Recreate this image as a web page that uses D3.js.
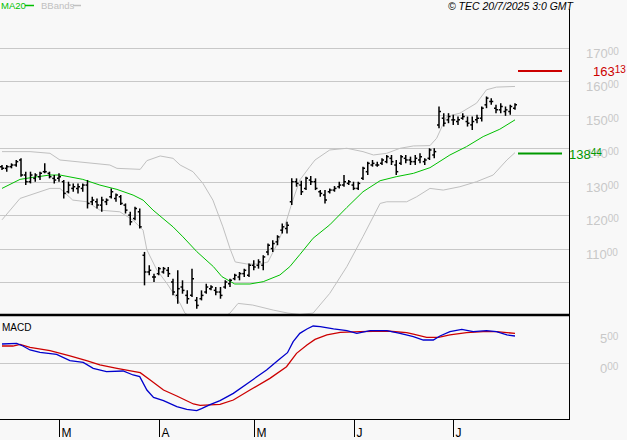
<!DOCTYPE html>
<html>
<head>
<meta charset="utf-8">
<script src="https://cdn.jsdelivr.net/npm/d3@7"></script>
<style>
  body { margin: 0; background: #f8f8f8; }
  svg { display: block; }
  text { font-family: "Liberation Sans", Arial, sans-serif; }
</style>
</head>
<body>
<svg id="chart" width="627" height="440"></svg>
<script>
// trading calendar
const firstDay = "2025-02-13", lastDay = "2025-07-18"
const holidays = ["2025-04-18", "2025-04-21", "2025-05-01"]
const monthLabels = ["M", "A", "M", "J", "J"]

// daily bars
const high = [135.0,135.0,135.5,136.5,137.0,133.0,133.0,132.5,133.0,135.5,133.0,132.0,132.5,130.5,130.0,129.5,129.5,129.5,130.5,125.5,
  125.0,125.5,125.0,128.0,126.5,126.0,123.5,121.0,122.5,122.0,109.0,105.0,102.5,104.5,104.5,104.5,101.0,103.5,100.5,97.5,
  104.0,95.5,97.5,99.5,99.0,98.5,98.5,100.5,101.0,102.5,103.0,104.0,105.5,106.5,106.8,108.0,111.5,112.5,114.0,117.5,
  118.0,131.0,131.0,130.3,131.5,131.7,131.0,127.5,127.5,128.0,128.7,130.0,132.0,130.5,130.0,130.0,134.5,136.0,136.5,136.0,
  137.0,138.0,138.0,136.5,138.0,138.0,137.5,138.0,138.5,137.0,140.0,140.0,152.5,150.5,150.5,150.0,149.5,150.5,149.5,149.5,
  150.0,152.5,155.5,155.0,153.0,153.5,152.5,153.0,153.5]
const low = [133.5,133.0,134.0,134.5,131.5,129.0,129.5,130.0,130.5,132.5,131.0,129.5,130.0,125.0,126.5,127.0,126.5,127.0,122.0,123.0,
  122.0,121.0,123.0,125.0,124.0,123.0,120.5,117.0,118.5,116.0,99.0,102.0,100.0,102.0,102.5,101.5,96.0,93.5,96.5,93.5,
  95.5,92.0,94.5,96.5,97.5,96.0,95.0,98.0,98.5,100.5,100.5,101.5,101.5,103.5,104.0,103.5,108.0,109.0,111.0,114.5,
  114.5,123.0,128.5,126.0,127.5,129.0,127.5,125.5,123.5,126.5,127.0,128.0,128.5,129.0,127.5,127.5,130.5,132.0,134.5,134.5,
  135.0,135.5,135.0,132.0,135.0,135.5,135.0,135.0,135.5,135.0,136.5,137.0,146.0,146.5,147.5,147.0,147.0,148.5,146.5,145.5,
  147.5,148.0,152.0,153.0,150.5,150.5,149.7,150.0,151.5]
const open = [134.5,134.0,134.5,135.0,136.5,132.0,130.0,131.0,131.5,133.0,132.5,131.0,131.0,130.0,127.0,128.0,128.0,128.0,129.0,124.0,
  124.0,123.0,124.0,125.5,125.0,125.5,123.0,120.0,119.0,121.0,108.0,103.0,101.5,102.5,103.0,103.5,100.0,96.0,98.5,96.0,
  96.0,94.5,95.0,97.0,98.0,97.5,97.0,98.5,99.5,101.0,101.5,102.5,102.0,105.0,105.0,105.0,109.0,110.0,112.0,115.5,
  116.0,124.0,130.0,129.0,128.0,130.5,130.0,127.0,126.0,127.0,127.5,128.5,129.0,129.5,129.0,128.0,131.0,133.0,135.0,135.0,
  135.5,136.0,137.0,135.0,135.5,137.0,136.5,136.0,136.5,136.0,137.0,138.0,147.0,149.0,148.5,148.5,148.0,149.0,148.0,147.0,
  148.5,149.0,153.0,154.0,152.0,151.5,151.0,151.0,152.0]
const close = [134.0,134.5,135.0,136.0,132.0,130.0,132.0,132.0,132.5,133.0,131.5,130.5,131.5,126.5,129.0,128.5,128.5,129.0,123.5,124.5,
  123.0,124.5,124.5,127.0,126.0,123.5,121.5,118.0,122.0,116.5,103.0,103.5,101.5,104.0,104.0,102.5,97.0,98.0,97.5,95.0,
  101.0,93.0,96.0,98.5,98.5,97.0,96.0,100.0,100.5,102.0,102.5,103.5,105.0,104.5,106.0,107.5,111.0,111.5,113.5,116.5,
  117.0,130.0,129.5,127.0,131.0,130.0,128.0,126.5,124.5,127.5,128.0,129.0,130.0,130.0,128.0,129.5,134.0,135.5,135.5,135.0,
  136.5,137.5,136.0,133.0,137.5,136.5,136.0,137.0,137.5,136.5,139.5,139.0,151.0,147.5,149.5,148.5,148.5,149.5,147.5,148.0,
  149.0,152.0,155.0,154.0,151.5,152.5,151.5,152.5,153.0]

// indicators: [day index, value]
const ma20 = [[0,128.0],[3.8,130.7],[6.5,131.3],[10.1,132.0],[12.2,132.0],[17,130.7],[20.6,129.0],[24.2,127.7],[27.6,126.0],
  [29.7,124.5],[31.8,121.5],[33.9,119.0],[36,116.5],[38.1,113.5],[41,109.1],[44.5,104.6],[46.3,101.6],[49,99.4],[52.2,99.4],
  [55,100.1],[58.5,102.1],[60.6,104.6],[62.7,108.2],[65.5,113.1],[69,117.1],[72.6,122.3],[76,127.0],[79.6,130.3],[83,131.5],
  [86.6,132.5],[90.1,134.2],[94.3,138.0],[97.8,140.5],[101.3,143.5],[104.8,145.7],[108,148.5]]
const bbUpper = [[0,139],[5.9,139],[10.1,138.5],[12.2,136.5],[22.7,135],[24.2,134],[29.1,133.7],[30.5,136.3],[33.3,137.7],
  [36,137],[37.5,135],[40.2,133],[42.3,129.5],[44.4,124.5],[46.5,116.5],[48,110],[49.1,106],[51.5,105.4],[54.3,105.4],[56,106],
  [57.8,111],[59.6,117],[61,123.5],[62.7,130.5],[64.8,134.5],[65.9,136.5],[69,139.5],[72.6,140],[76,139],[78.2,138],[81,138.5],
  [83.8,140],[86.6,140.7],[90.1,140.8],[91.5,143],[93.6,149.5],[96.4,150.5],[99.9,153.5],[102,157.5],[104.1,158.3],[108,158.5]]
const bbLower = [[0,118.6],[3.8,125],[5.9,126],[10.1,128],[12.2,128],[14.9,124.5],[17.9,124],[20.6,121.5],[24.8,121],
  [27.6,118.5],[29.7,115.5],[30.5,109.6],[32.6,103.6],[34.7,99.6],[37.5,93.6],[38.5,90.7],[41.7,88],[44.8,88],[48,90.7],
  [49.7,93.6],[52.8,93.1],[57.1,91.6],[60.2,90.7],[62.7,90.3],[65.5,90.7],[69,96.6],[72.6,104.6],[76,113.6],[79.6,123.5],
  [81,124],[85.2,124],[87.3,125.5],[90.1,128],[92.9,127.5],[96.4,128.5],[99.9,130],[103.4,132],[106.3,136.5],[108,138.7]]
const macd = [[0,3.17],[3.1,3.28],[4.4,2.83],[5.9,2.17],[8,1.78],[11.5,1.44],[14.3,0.39],[17.1,0.11],[19.2,-0.89],[22,-1.44],
  [25.5,-1.33],[27.6,-2],[29,-2.28],[30.5,-4.5],[31.9,-5.72],[34,-6.28],[36.8,-7.28],[38.9,-7.72],[41,-7.94],[42,-7.6],
  [43.8,-6.95],[45.9,-6.28],[48.7,-5.06],[52.2,-3.11],[55.7,-1.17],[58.2,0.5],[60.1,1.72],[61.3,3.56],[62.7,4.94],[64.2,5.67],
  [65.5,6.17],[67,6.06],[69.8,5.67],[72.6,5.39],[74.7,4.94],[77.5,5.39],[81,5.39],[83.8,4.94],[86.6,4.39],[88.7,3.83],
  [90.8,3.83],[92.2,4.5],[94.3,5.22],[96.8,5.61],[99.2,5.22],[102,5.39],[104.1,5.22],[106.3,4.67],[108,4.5]]
const signal = [[0,2.83],[2.3,2.83],[3.8,3.1],[5.9,2.6],[10.1,2.05],[14.3,1.17],[17.8,0.39],[20.6,-0.33],[24.2,-0.89],
  [29.1,-1.61],[31.2,-2.83],[34,-4.5],[36.8,-5.5],[40.3,-6.83],[41.7,-7.05],[45.9,-6.89],[48.7,-6.17],[52.2,-4.5],[56.4,-2.56],
  [59.9,-0.61],[62,1.61],[64.2,3],[65.9,3.94],[68.4,4.67],[71.2,5.11],[75.4,5.22],[81,5.33],[85.2,5.06],[86.6,4.83],
  [89.4,4.28],[91.9,4.28],[94.3,4.67],[97.8,5.06],[101.3,5.22],[104.1,5.22],[106.3,5.06],[108,4.94]]

const priceTicks = [100, 110, 120, 130, 140, 150, 160, 170]
const priceLabels = [110, 120, 130, 140, 150, 160, 170]
const macdLabels = [5, 0]
const upperMark = 163.13, lowerMark = 138.44

const parse = d3.utcParse("%Y-%m-%d"), fmt = d3.utcFormat("%Y-%m-%d")
const days = d3.utcDays(parse(firstDay), d3.utcDay.offset(parse(lastDay), 1))
  .filter(d => d.getUTCDay() > 0 && d.getUTCDay() < 6 && !holidays.includes(fmt(d)))

const W = 569
const svg = d3.select("#chart")
svg.append("rect").attr("width", 627).attr("height", 440).attr("fill", "#f8f8f8")

let x = d3.scaleLinear().domain([0, days.length - 1]).range([2, 515])
let y = d3.scaleLinear().domain([100, 170]).range([282, 48])
let ym = d3.scaleLinear().domain([0, 5]).range([363, 333])

const defs = svg.append("defs")
defs.append("clipPath").attr("id", "cm").append("rect").attr("x", 0).attr("y", 10).attr("width", W).attr("height", 304)
defs.append("clipPath").attr("id", "cd").append("rect").attr("x", 0).attr("y", 316).attr("width", W).attr("height", 103)

// grid
svg.append("g").selectAll("line").data(priceTicks).join("line")
  .attr("x1", 0).attr("x2", W)
  .attr("y1", d => Math.round(y(d)) + 0.5).attr("y2", d => Math.round(y(d)) + 0.5)
  .attr("stroke", "#c8c8c8")
svg.append("line").attr("x1", 0).attr("x2", W)
  .attr("y1", Math.round(ym(0)) + 0.5).attr("y2", Math.round(ym(0)) + 0.5).attr("stroke", "#c8c8c8")

// right labels with small decimals
function priceLabel(g, v, px, py, color, big, small) {
  let s = v.toFixed(2).split(".")
  let t = g.append("text").attr("x", px).attr("y", py).attr("fill", color)
  t.append("tspan").attr("font-size", big).text(s[0])
  t.append("tspan").attr("font-size", small).attr("dy", -3).text(s[1])
}
let lab = svg.append("g")
priceLabels.forEach(v => priceLabel(lab, v, 586, y(v) + 10, "#c8c8c8", 13, 10))
macdLabels.forEach(v => priceLabel(lab, v, 600, ym(v) + 10, "#c8c8c8", 13, 10))

let main = svg.append("g").attr("clip-path", "url(#cm)")
let line = d3.line().x(d => x(d[0])).y(d => y(d[1]))
main.append("path").attr("d", line(bbUpper)).attr("fill", "none").attr("stroke", "#c0c0c0")
main.append("path").attr("d", line(bbLower)).attr("fill", "none").attr("stroke", "#c0c0c0")
main.append("path").attr("d", line(ma20)).attr("fill", "none").attr("stroke", "#00c000")

// OHLC bars
let bars = main.append("g").attr("stroke", "#000").attr("stroke-width", 1.5)
days.forEach((d, i) => {
  let bx = x(i)
  bars.append("line").attr("x1", bx).attr("x2", bx).attr("y1", y(high[i])).attr("y2", y(low[i]))
  bars.append("line").attr("x1", bx - 2).attr("x2", bx).attr("y1", y(open[i])).attr("y2", y(open[i]))
  bars.append("line").attr("x1", bx).attr("x2", bx + 2).attr("y1", y(close[i])).attr("y2", y(close[i]))
})

// projected band marks
svg.append("line").attr("x1", 518).attr("x2", 562).attr("y1", y(upperMark)).attr("y2", y(upperMark))
  .attr("stroke", "#cc0000").attr("stroke-width", 2)
svg.append("line").attr("x1", 518).attr("x2", 562).attr("y1", y(lowerMark)).attr("y2", y(lowerMark))
  .attr("stroke", "#009900").attr("stroke-width", 2)
priceLabel(lab, upperMark, 593, y(upperMark) + 5, "#cc0000", 13, 10)
priceLabel(lab, lowerMark, 569, y(lowerMark) + 5, "#009900", 13, 10)

// MACD
let sub = svg.append("g").attr("clip-path", "url(#cd)")
let mline = d3.line().x(d => x(d[0])).y(d => ym(d[1]))
sub.append("path").attr("d", mline(signal)).attr("fill", "none").attr("stroke", "#cc0000").attr("stroke-width", 1.3)
sub.append("path").attr("d", mline(macd)).attr("fill", "none").attr("stroke", "#0000cc").attr("stroke-width", 1.3)

// frame
svg.append("line").attr("x1", 0).attr("x2", W).attr("y1", 315).attr("y2", 315).attr("stroke", "#000").attr("stroke-width", 2.5)
svg.append("line").attr("x1", 0).attr("x2", W + 0.5).attr("y1", 419.5).attr("y2", 419.5).attr("stroke", "#000")
svg.append("line").attr("x1", W + 0.5).attr("x2", W + 0.5).attr("y1", 9).attr("y2", 420).attr("stroke", "#000")

// month ticks
let monthStarts = days.map((d, i) => i).filter(i => i > 0 && days[i].getUTCMonth() !== days[i - 1].getUTCMonth())
let mt = svg.append("g")
monthStarts.forEach((i, k) => {
  let mx = Math.round(x(i)) + 0.5
  mt.append("line").attr("x1", mx).attr("x2", mx).attr("y1", 419).attr("y2", 437).attr("stroke", "#000")
  mt.append("text").attr("x", mx + 2).attr("y", 437).attr("font-size", 12).attr("fill", "#000").text(monthLabels[k])
})

// titles
svg.append("text").attr("x", 1).attr("y", 9).attr("font-size", 9.5).attr("fill", "#00c000").text("MA20")
svg.append("line").attr("x1", 25).attr("x2", 34).attr("y1", 5.5).attr("y2", 5.5).attr("stroke", "#00c000").attr("stroke-width", 1.5)
svg.append("text").attr("x", 41).attr("y", 9).attr("font-size", 9.5).attr("fill", "#c0c0c0").text("BBands")
svg.append("line").attr("x1", 73).attr("x2", 81).attr("y1", 5.5).attr("y2", 5.5).attr("stroke", "#c0c0c0").attr("stroke-width", 1.5)
svg.append("text").attr("x", 573).attr("y", 9.5).attr("text-anchor", "end").attr("font-size", 10.5)
  .attr("font-style", "italic").attr("fill", "#000").text("© TEC 20/7/2025 3:0 GMT")
svg.append("text").attr("x", 2).attr("y", 331).attr("font-size", 10).attr("fill", "#000").text("MACD")
</script>
</body>
</html>
